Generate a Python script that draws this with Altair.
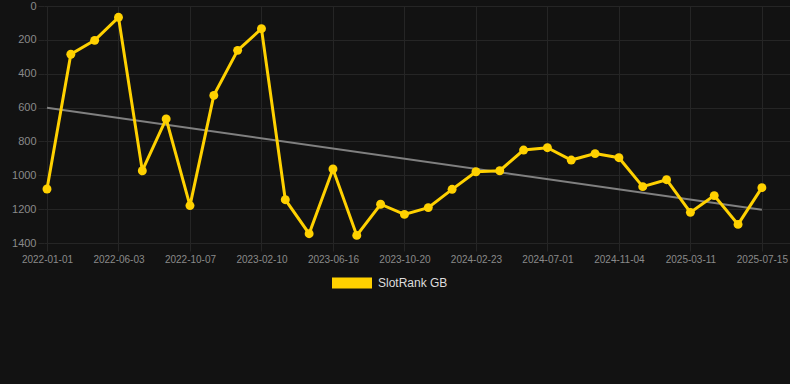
import altair as alt
import pandas as pd

dates = [
    "2022-01-01", "2022-02-20", "2022-04-12", "2022-06-03", "2022-07-15", "2022-08-26",
    "2022-10-07", "2022-11-18", "2022-12-30", "2023-02-10", "2023-03-24", "2023-05-05",
    "2023-06-16", "2023-07-28", "2023-09-08", "2023-10-20", "2023-12-01", "2024-01-12",
    "2024-02-23", "2024-04-05", "2024-05-17", "2024-07-01", "2024-08-12", "2024-09-23",
    "2024-11-04", "2024-12-16", "2025-01-27", "2025-03-11", "2025-04-22", "2025-06-03",
    "2025-07-15",
]
ranks = [
    1081, 285, 203, 67, 973, 667, 1179, 528, 262, 134,
    1144, 1345, 963, 1355, 1171, 1231, 1191, 1083, 979, 973,
    851, 837, 910, 872, 896, 1067, 1026, 1219, 1120, 1290, 1073,
]
series_name = "SlotRank GB"
y_ticks = [0, 200, 400, 600, 800, 1000, 1200, 1400]

df = pd.DataFrame({
    "idx": list(range(len(dates))),
    "date": dates,
    "rank": ranks,
    "series": [series_name] * len(dates),
})

tick_idx = list(range(0, len(dates), 3))
label_arr = "[" + ",".join("'%s'" % d for d in dates) + "]"
label_expr = label_arr + "[datum.value]"

YELLOW = "#FFD100"
GRID = "#252525"

x_enc = alt.X(
    "idx:Q",
    scale=alt.Scale(domain=[-0.126, 31.18], nice=False, zero=False),
    axis=alt.Axis(values=tick_idx, labelExpr=label_expr, title=None, ticks=True,
                  tickSize=8, tickColor=GRID, domain=False, labelPadding=3,
                  labelFontSize=10, labelColor="#8a8a8a", gridColor=GRID,
                  labelFlush=False),
)
y_enc = alt.Y(
    "rank:Q",
    scale=alt.Scale(domain=[0, 1400], reverse=True, nice=False),
    axis=alt.Axis(values=y_ticks, format="d", title=None, ticks=True, tickSize=6,
                  tickColor=GRID, domain=False, labelPadding=2, labelFontSize=11,
                  labelColor="#8a8a8a", gridColor=GRID),
)

color_enc = alt.Color(
    "series:N",
    scale=alt.Scale(domain=[series_name], range=[YELLOW]),
    legend=alt.Legend(
        title=None, orient="none", legendX=288, legendY=257, direction="horizontal",
        symbolType="M-1,-0.275H1V0.275H-1Z", symbolSize=1600, symbolStrokeWidth=0,
        symbolFillColor=YELLOW, symbolOpacity=1, labelFontSize=12, labelColor="#dddddd",
        labelOffset=6,
    ),
)

base = alt.Chart(df)

trend = base.transform_regression("idx", "rank").mark_line(
    color="#808080", strokeWidth=2
).encode(x=x_enc, y=y_enc)

line = base.mark_line(strokeWidth=3).encode(x=x_enc, y=y_enc, color=color_enc)
points = base.mark_circle(size=80, opacity=1).encode(x=x_enc, y=y_enc, color=color_enc)

chart = alt.layer(trend, line, points).properties(
    width=746, height=237,
    background="#121212",
    padding={"left": 44, "top": 6, "right": 0, "bottom": 141},
    autosize=alt.AutoSizeParams(type="none"),
).configure(
    font="Liberation Sans"
).configure_view(stroke=None).configure_axis(domain=False)

chart.save("out.html", embed_options={"renderer": "svg", "actions": False})
